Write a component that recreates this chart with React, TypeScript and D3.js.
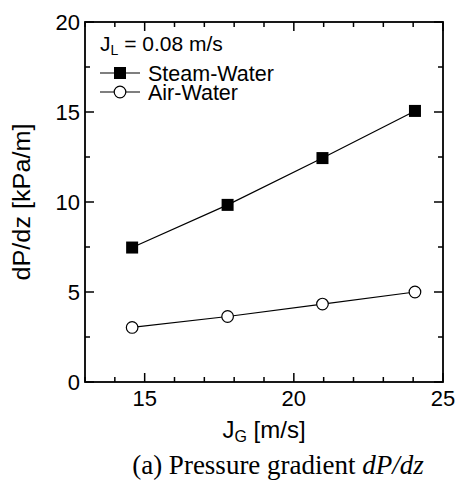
import React from "react";
import * as d3 from "d3";

const jg = [14.58, 17.78, 20.96, 24.06];
const steamWater = [7.47, 9.84, 12.44, 15.06];
const airWater = [3.03, 3.64, 4.33, 5.0];
const xMajorTicks = [15, 20, 25];
const yMajorTicks = [0, 5, 10, 15, 20];

const W = 458;
const H = 483;
const L = 85, R = 443, T = 22, B = 382;

export default function App() {
  const x = d3.scaleLinear().domain([13, 25]).range([L, R]);
  const y = d3.scaleLinear().domain([0, 20]).range([B, T]);
  const xMinor = d3.range(13, 25.01, 1).filter((v) => !xMajorTicks.includes(v));
  const yMinor = d3.range(2.5, 20, 5);
  const line = d3.line<number>().x((_, i) => x(jg[i])).y((d) => y(d));
  const sans = "Liberation Sans, Arial, sans-serif";
  const fs = 22;
  const MJ = 9, MN = 5;
  return (
    <svg width={W} height={H} style={{ position: "absolute", left: 0, top: 0 }}>
      <rect width={W} height={H} fill="white" />
      {/* data lines */}
      <path d={line(steamWater) || ""} fill="none" stroke="#000" strokeWidth={1.2} />
      <path d={line(airWater) || ""} fill="none" stroke="#000" strokeWidth={1.2} />
      {steamWater.map((v, i) => (
        <rect key={"s" + i} x={x(jg[i]) - 6} y={y(v) - 6} width={12} height={12} fill="#000" />
      ))}
      {airWater.map((v, i) => (
        <circle key={"a" + i} cx={x(jg[i])} cy={y(v)} r={5.8} fill="#fff" stroke="#000" strokeWidth={1.2} />
      ))}
      {/* frame */}
      <rect x={L} y={T} width={R - L} height={B - T} fill="none" stroke="#000" strokeWidth={1.8} />
      {/* x ticks */}
      {xMajorTicks.map((v) => (
        <g key={"xm" + v}>
          <line x1={x(v)} x2={x(v)} y1={B} y2={B - MJ} stroke="#000" strokeWidth={1.5} />
          <line x1={x(v)} x2={x(v)} y1={T} y2={T + MJ} stroke="#000" strokeWidth={1.5} />
          <text x={x(v)} y={406} textAnchor="middle" fontFamily={sans} fontSize={fs}>{v}</text>
        </g>
      ))}
      {xMinor.map((v) => (
        <g key={"xn" + v}>
          <line x1={x(v)} x2={x(v)} y1={B} y2={B - MN} stroke="#000" strokeWidth={1.5} />
          <line x1={x(v)} x2={x(v)} y1={T} y2={T + MN} stroke="#000" strokeWidth={1.5} />
        </g>
      ))}
      {/* y ticks */}
      {yMajorTicks.map((v) => (
        <g key={"ym" + v}>
          <line x1={L} x2={L + MJ} y1={y(v)} y2={y(v)} stroke="#000" strokeWidth={1.5} />
          <line x1={R} x2={R - MJ} y1={y(v)} y2={y(v)} stroke="#000" strokeWidth={1.5} />
          <text x={80} y={y(v)} dy="0.36em" textAnchor="end" fontFamily={sans} fontSize={fs}>{v}</text>
        </g>
      ))}
      {yMinor.map((v) => (
        <g key={"yn" + v}>
          <line x1={L} x2={L + MN} y1={y(v)} y2={y(v)} stroke="#000" strokeWidth={1.5} />
          <line x1={R} x2={R - MN} y1={y(v)} y2={y(v)} stroke="#000" strokeWidth={1.5} />
        </g>
      ))}
      {/* legend */}
      <text x={100} y={51} fontFamily={sans} fontSize={21}>
        J<tspan fontSize={14} dy={4}>L</tspan><tspan dy={-4}> = 0.08 m/s</tspan>
      </text>
      <line x1={100} x2={140} y1={73} y2={73} stroke="#000" strokeWidth={1.2} />
      <rect x={114} y={67} width={12} height={12} fill="#000" />
      <text x={148} y={81} fontFamily={sans} fontSize={21.5}>Steam-Water</text>
      <line x1={100} x2={140} y1={92} y2={92} stroke="#000" strokeWidth={1.2} />
      <circle cx={120} cy={92} r={5.8} fill="#fff" stroke="#000" strokeWidth={1.2} />
      <text x={148} y={100} fontFamily={sans} fontSize={21.5}>Air-Water</text>
      {/* axis labels */}
      <text x={(L + R) / 2} y={438} textAnchor="middle" fontFamily={sans} fontSize={24}>
        J<tspan fontSize={16} dy={4}>G</tspan><tspan dy={-4}> [m/s]</tspan>
      </text>
      <text
        transform={`translate(30,${(T + B) / 2}) rotate(-90)`}
        textAnchor="middle"
        fontFamily={sans}
        fontSize={23}
        textLength={157}
        lengthAdjust="spacingAndGlyphs"
      >
        dP/dz [kPa/m]
      </text>
      <text x={278} y={474} textAnchor="middle" fontFamily="Liberation Serif, Times New Roman, serif" fontSize={27}>
        (a) Pressure gradient <tspan fontStyle="italic">dP/dz</tspan>
      </text>
    </svg>
  );
}
